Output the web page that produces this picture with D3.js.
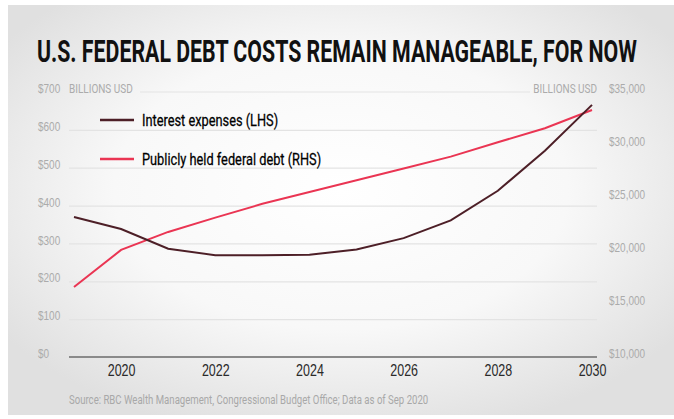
<!DOCTYPE html>
<html>
<head>
<meta charset="utf-8">
<script src="https://cdn.jsdelivr.net/npm/d3@7"></script>
<style>
  body { margin: 0; background: #fff; }
  svg { display: block; font-family: Roboto, 'Liberation Sans', sans-serif; }
</style>
</head>
<body>
<div class="chart"></div>
<script>
// data
const years = [2019, 2020, 2021, 2022, 2023, 2024, 2025, 2026, 2027, 2028, 2029, 2030];
const interestExpenses = [370, 338, 286, 269, 269, 270, 284, 314, 361, 439, 545, 666];   // LHS, billions
const federalDebt = [16600, 20100, 21800, 23150, 24450, 25570, 26680, 27790, 28900, 30260, 31580, 33300]; // RHS, billions
const leftTicks = [0, 100, 200, 300, 400, 500, 600, 700];
const rightTicks = [10000, 15000, 20000, 25000, 30000, 35000];
const xTicks = [2020, 2022, 2024, 2026, 2028, 2030];
const seriesNames = ["Interest expenses (LHS)", "Publicly held federal debt (RHS)"];

const width = 674, height = 419;
const plotLeft = 69, plotRight = 597, plotTop = 92, plotBottom = 357;
const brown = "#4d1f27", red = "#ea3553";
const narrow = 0.8; // squeeze factor to fake a condensed face

const svg = d3.select(".chart")
  .append("svg")
    .attr("width", width)
    .attr("height", height);

// squeeze text horizontally around its anchor x
function squeeze(sel, k) {
  sel.each(function() {
    const t = d3.select(this);
    const ax = +t.attr("x") || 0;
    t.attr("transform", `translate(${ax},0) scale(${k},1) translate(${-ax},0)`);
  });
}

// background panel with soft grey edges
const defs = svg.append("defs");
const grad = defs.append("radialGradient")
    .attr("id", "bg")
    .attr("cx", "50%").attr("cy", "45%").attr("r", "62%");
grad.append("stop").attr("offset", "0%").attr("stop-color", "#ffffff");
grad.append("stop").attr("offset", "55%").attr("stop-color", "#f8f8f8");
grad.append("stop").attr("offset", "100%").attr("stop-color", "#e0e0e0");
svg.append("rect")
    .attr("x", 8).attr("y", 5)
    .attr("width", width - 8).attr("height", 410)
    .attr("fill", "url(#bg)");

// scales
const x = d3.scaleLinear().domain([2019, 2030]).range([74, 592]);
const yLeft = d3.scaleLinear().domain([0, 700]).range([plotBottom, plotTop]);
const yRight = d3.scaleLinear().domain([10000, 35000]).range([plotBottom, plotTop]);

// title, fitted to the reference width
const title = svg.append("text")
    .attr("x", 37).attr("y", 62)
    .attr("font-size", 32)
    .attr("font-weight", "bold")
    .attr("fill", "#111")
    .text("U.S. FEDERAL DEBT COSTS REMAIN MANAGEABLE, FOR NOW");
squeeze(title, 600 / title.node().getComputedTextLength());

// gridlines (left scale)
const grid = svg.append("g")
    .attr("transform", `translate(${plotLeft},0)`)
    .call(d3.axisRight(yLeft).tickValues(leftTicks.slice(1, -1)).tickSize(plotRight - plotLeft).tickFormat(""));
grid.select(".domain").remove();
grid.selectAll("line").attr("stroke", "#e3e3e3").attr("stroke-width", 1.2);

// top gridline sits between the two unit labels
svg.append("line")
    .attr("x1", 140).attr("x2", 530)
    .attr("y1", yLeft(700)).attr("y2", yLeft(700))
    .attr("stroke", "#e3e3e3").attr("stroke-width", 1.2);

// left axis labels
const leftAxis = svg.append("g")
    .attr("transform", "translate(38,0)")
    .call(d3.axisRight(yLeft).tickValues(leftTicks).tickSize(0).tickPadding(0).tickFormat(d => "$" + d));
leftAxis.select(".domain").remove();
leftAxis.selectAll("text")
    .attr("fill", "#ababab").attr("font-size", 12.5).attr("font-family", null)
    .attr("dy", "0.05em").call(squeeze, narrow);

// right axis labels
const rightAxis = svg.append("g")
    .attr("transform", "translate(609,0)")
    .call(d3.axisRight(yRight).tickValues(rightTicks).tickSize(0).tickPadding(0).tickFormat(d => "$" + d3.format(",")(d)));
rightAxis.select(".domain").remove();
rightAxis.selectAll("text")
    .attr("fill", "#ababab").attr("font-size", 12.5).attr("font-family", null)
    .attr("dy", "0.05em").call(squeeze, narrow);

// unit labels
svg.append("text")
    .attr("x", plotLeft).attr("y", yLeft(700)).attr("dy", "0.05em")
    .attr("font-size", 12.5).attr("fill", "#ababab")
    .text("BILLIONS USD").call(squeeze, narrow);
svg.append("text")
    .attr("x", plotRight).attr("y", yLeft(700)).attr("dy", "0.05em")
    .attr("text-anchor", "end")
    .attr("font-size", 12.5).attr("fill", "#ababab")
    .text("BILLIONS USD").call(squeeze, narrow);

// x axis
const xAxis = svg.append("g")
    .attr("transform", `translate(0,${plotBottom})`)
    .call(d3.axisBottom(x).tickValues(xTicks).tickSize(0).tickPadding(8).tickFormat(d3.format("d")));
xAxis.select(".domain").remove();
xAxis.selectAll("text")
    .attr("fill", "#2a2a2a").attr("font-size", 16).attr("font-family", null)
    .call(squeeze, 0.78);
svg.append("line")
    .attr("x1", plotLeft).attr("x2", plotRight)
    .attr("y1", plotBottom).attr("y2", plotBottom)
    .attr("stroke", "#8a8a8a").attr("stroke-width", 2);

// lines
const lineLeft = d3.line().x((d, i) => x(years[i])).y(d => yLeft(d));
const lineRight = d3.line().x((d, i) => x(years[i])).y(d => yRight(d));

svg.append("path")
    .attr("d", lineRight(federalDebt))
    .attr("fill", "none")
    .attr("stroke", red)
    .attr("stroke-width", 2);

svg.append("path")
    .attr("d", lineLeft(interestExpenses))
    .attr("fill", "none")
    .attr("stroke", brown)
    .attr("stroke-width", 2);

// legend
const legend = svg.selectAll(".legend")
    .data(seriesNames)
    .enter()
    .append("g")
    .attr("class", "legend")
    .attr("transform", (d, i) => `translate(100,${120 + i * 39})`);
legend.append("line")
    .attr("x1", 0).attr("x2", 34)
    .attr("stroke", (d, i) => i === 0 ? brown : red)
    .attr("stroke-width", 2.5);
legend.append("text")
    .attr("x", 42).attr("dy", "0.35em")
    .attr("font-size", 16).attr("fill", "#000")
    .attr("stroke", "#000").attr("stroke-width", 0.25)
    .text(d => d)
    .call(squeeze, narrow);

// source
svg.append("text")
    .attr("x", plotLeft).attr("y", 404)
    .attr("font-size", 12).attr("fill", "#a8a8a8")
    .text("Source: RBC Wealth Management, Congressional Budget Office; Data as of Sep 2020")
    .call(squeeze, narrow);
</script>
</body>
</html>
